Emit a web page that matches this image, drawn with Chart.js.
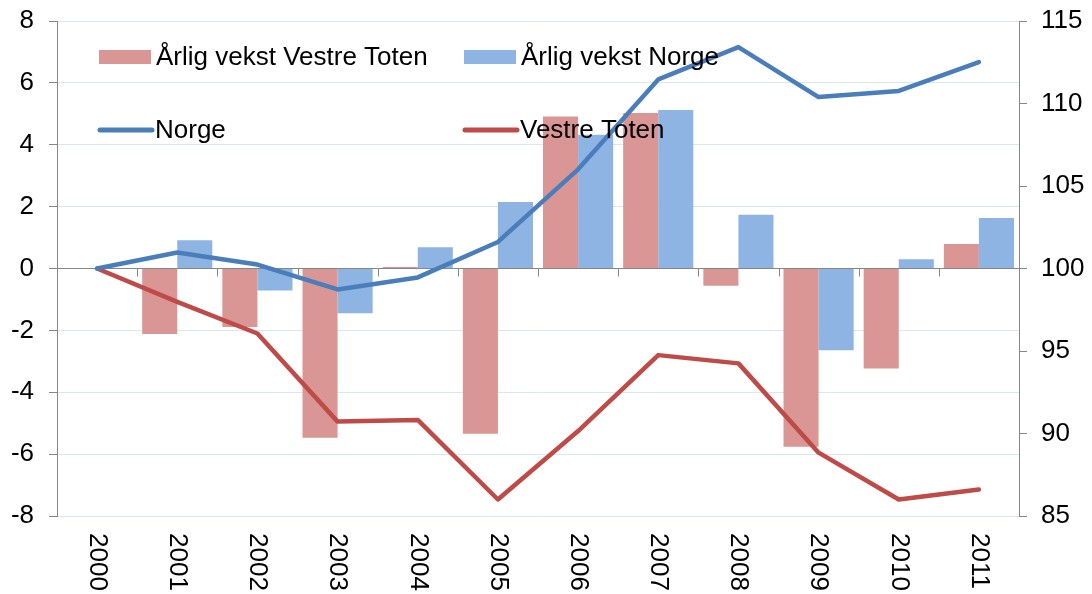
<!DOCTYPE html>
<html>
<head>
<meta charset="utf-8">
<script src="https://cdn.jsdelivr.net/npm/chart.js@4.4.1/dist/chart.umd.min.js"></script>
<style>
  html, body { margin: 0; padding: 0; background: #fff; }
  #wrap { width: 1092px; height: 594px; }
</style>
</head>
<body>
<div id="wrap"><canvas id="grafik"></canvas></div>
<script>
// data
const years = ['2000', '2001', '2002', '2003', '2004', '2005', '2006', '2007', '2008', '2009', '2010', '2011'];
const vekstVestreToten = [null, -2.12, -1.89, -5.47, 0.05, -5.34, 4.91, 5.03, -0.56, -5.76, -3.23, 0.79];
const vekstNorge = [null, 0.91, -0.71, -1.45, 0.69, 2.15, 4.32, 5.12, 1.74, -2.64, 0.30, 1.63];
const indeksNorge = [100, 100.97, 100.24, 98.73, 99.46, 101.61, 106.01, 111.46, 113.42, 110.39, 110.76, 112.51];
const indeksVestreToten = [100, 97.98, 96.06, 90.72, 90.82, 86.0, 90.15, 94.75, 94.25, 88.84, 86.0, 86.6];
const leftTicks = [-8, -6, -4, -2, 0, 2, 4, 6, 8];
const rightTicks = [85, 90, 95, 100, 105, 110, 115];

const FONT = "'Liberation Sans', Arial, sans-serif";
const axisGray = '#868686';
const gridBlue = '#DCE6F2';

// x labels (rotated clockwise), x tick marks at zero line, legend inside plot
const extras = {
    id: 'extras',
    afterDatasetsDraw(chart) {
        const ctx = chart.ctx;
        const area = chart.chartArea;
        const x = chart.scales.x;
        const y = chart.scales.y;
        ctx.save();

        // small tick marks on the category axis (crosses at 0)
        const y0 = y.getPixelForValue(0);
        ctx.strokeStyle = axisGray;
        ctx.lineWidth = 1;
        for (let i = 1; i < years.length; i++) {
            const px = Math.round((x.getPixelForValue(i - 1) + x.getPixelForValue(i)) / 2) + 0.5;
            ctx.beginPath();
            ctx.moveTo(px, y0);
            ctx.lineTo(px, y0 + 8);
            ctx.stroke();
        }

        // legend
        const ds = chart.data.datasets;
        const items = [
            { d: ds[0], x: area.left + 42, y: area.top + 36, type: 'box' },
            { d: ds[1], x: area.left + 407, y: area.top + 36, type: 'box' },
            { d: ds[2], x: area.left + 41, y: area.top + 109, type: 'line' },
            { d: ds[3], x: area.left + 406, y: area.top + 109, type: 'line' }
        ];
        ctx.font = '26px ' + FONT;
        ctx.textBaseline = 'middle';
        ctx.textAlign = 'left';
        items.forEach(it => {
            if (it.type === 'box') {
                ctx.fillStyle = it.d.backgroundColor;
                ctx.fillRect(it.x, it.y - 7, 52, 14);
            } else {
                ctx.strokeStyle = it.d.borderColor;
                ctx.lineWidth = 5;
                ctx.lineCap = 'round';
                ctx.beginPath();
                ctx.moveTo(it.x + 2, it.y);
                ctx.lineTo(it.x + 54, it.y);
                ctx.stroke();
            }
            ctx.fillStyle = '#000';
            ctx.fillText(it.d.label, it.x + 57, it.y + 1);
        });

        // rotated year labels
        ctx.font = '26px ' + FONT;
        ctx.fillStyle = '#000';
        years.forEach((yr, i) => {
            ctx.save();
            ctx.translate(x.getPixelForValue(i), area.bottom + 17);
            ctx.rotate(Math.PI / 2);
            ctx.textAlign = 'left';
            ctx.textBaseline = 'middle';
            ctx.fillText(yr, 0, 0);
            ctx.restore();
        });
        ctx.restore();
    }
};

const ctxGrafik = document.getElementById('grafik');
new Chart(ctxGrafik, {
    data: {
        labels: years,
        datasets: [{
            type: 'bar',
            label: 'Årlig vekst Vestre Toten',
            data: vekstVestreToten,
            backgroundColor: '#D99694',
            yAxisID: 'y',
            order: 2
        }, {
            type: 'bar',
            label: 'Årlig vekst Norge',
            data: vekstNorge,
            backgroundColor: '#8EB4E3',
            yAxisID: 'y',
            order: 2
        }, {
            type: 'line',
            label: 'Norge',
            data: indeksNorge,
            borderColor: '#4A7EBB',
            borderWidth: 4.5,
            borderJoinStyle: 'round',
            borderCapStyle: 'round',
            pointRadius: 0,
            tension: 0,
            yAxisID: 'y1',
            order: 1
        }, {
            type: 'line',
            label: 'Vestre Toten',
            data: indeksVestreToten,
            borderColor: '#BE4B48',
            borderWidth: 4.5,
            borderJoinStyle: 'round',
            borderCapStyle: 'round',
            pointRadius: 0,
            tension: 0,
            yAxisID: 'y1',
            order: 1
        }]
    },
    options: {
        responsive: true,
        maintainAspectRatio: false,
        animation: false,
        layout: {
            padding: { top: 21, bottom: 70, left: 0, right: 0 }
        },
        plugins: {
            legend: { display: false },
            tooltip: { enabled: false }
        },
        datasets: {
            bar: { categoryPercentage: 0.875, barPercentage: 1 }
        },
        scales: {
            x: {
                offset: true,
                grid: { display: false },
                border: { display: false },
                ticks: { display: false }
            },
            y: {
                position: 'left',
                min: -8,
                max: 8,
                afterBuildTicks: s => { s.ticks = leftTicks.map(v => ({ value: v })); },
                afterFit: s => { s.width = 57; s.paddingTop = 0; s.paddingBottom = 0; },
                grid: {
                    color: c => (c.tick && c.tick.value === 0 ? axisGray : gridBlue),
                    tickColor: axisGray,
                    tickLength: 8
                },
                border: { color: axisGray },
                ticks: {
                    color: '#000',
                    padding: 15,
                    font: { family: FONT, size: 26 }
                }
            },
            y1: {
                position: 'right',
                min: 85,
                max: 115,
                afterBuildTicks: s => { s.ticks = rightTicks.map(v => ({ value: v })); },
                afterFit: s => { s.width = 73; s.paddingTop = 0; s.paddingBottom = 0; },
                grid: {
                    drawOnChartArea: false,
                    tickColor: axisGray,
                    tickLength: 8
                },
                border: { color: axisGray },
                ticks: {
                    color: '#000',
                    padding: 14,
                    font: { family: FONT, size: 26 }
                }
            }
        }
    },
    plugins: [extras]
});
</script>
</body>
</html>
